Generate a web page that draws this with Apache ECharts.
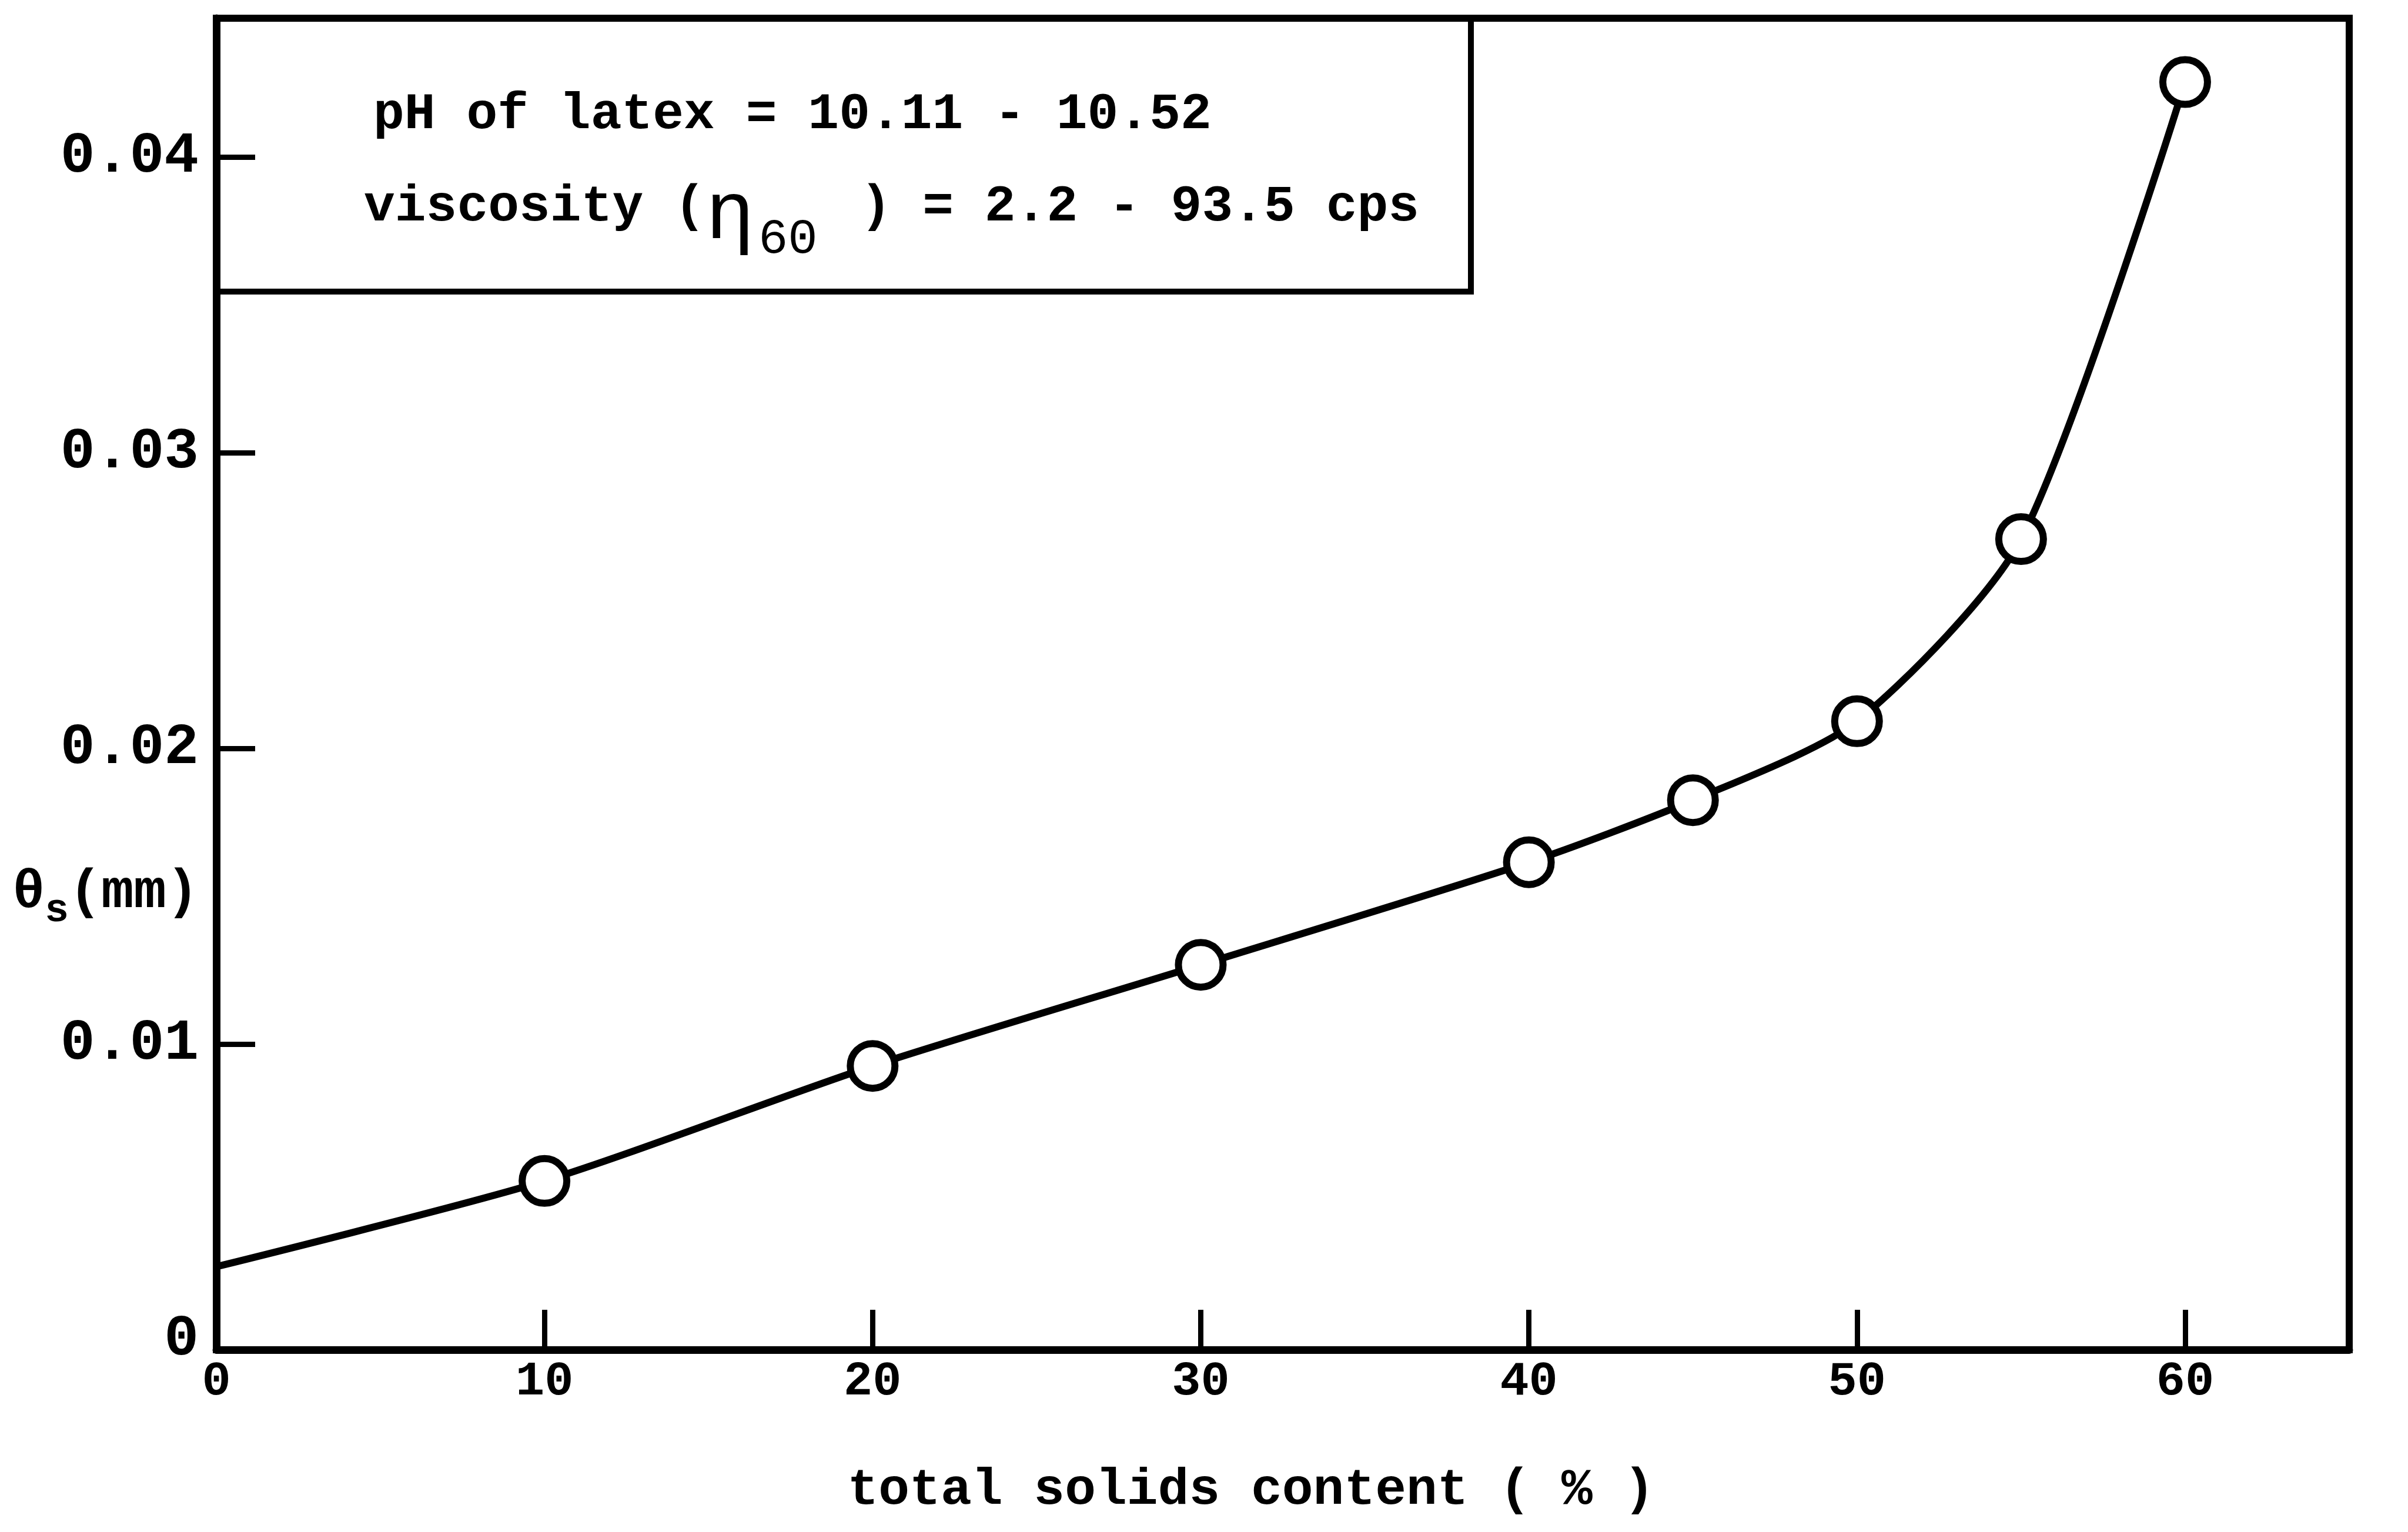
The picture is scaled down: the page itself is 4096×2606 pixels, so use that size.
<!DOCTYPE html>
<html>
<head>
<meta charset="utf-8">
<script src="https://cdn.jsdelivr.net/npm/echarts@6/dist/echarts.min.js"></script>
<style>
  html, body { margin: 0; padding: 0; background: #ffffff; }
  #chart { width: 4096px; height: 2606px; }
</style>
</head>
<body>
<div id="chart"></div>
<script>
// Measured points: total solids content (%) vs theta_s (mm)
const solids = [10, 20, 30, 40, 45, 50, 55, 60];
const thetaS = [0.00537, 0.00926, 0.01268, 0.01615, 0.01825, 0.02092, 0.02708, 0.04254];

// Fitted curve: starts at the 0 % intercept and runs through the measured points
const curveSolids = [0, 10, 20, 30, 40, 45, 50, 55, 60];
const curveTheta = [0.00247, 0.00537, 0.00926, 0.01268, 0.01615, 0.01825, 0.02092, 0.02708, 0.04254];

// Axis ticks and labels
const xLabelValues = [0, 10, 20, 30, 40, 50, 60];
const xTickValues = [10, 20, 30, 40, 50, 60];
const yLabelValues = [0, 0.01, 0.02, 0.03, 0.04];
const yTickValues = [0.01, 0.02, 0.03, 0.04];

// Note box text
const noteLine1 = 'pH of latex = 10.11 - 10.52';
const noteLine2a = 'viscosity (';
const noteEta = 'η';
const noteEtaSub = '60';
const noteLine2b = ' ) = 2.2 - 93.5 cps';

const FONT = '"Liberation Mono", "DejaVu Sans Mono", monospace';
const INK = '#000000';

const chart = echarts.init(document.getElementById('chart'), null, { renderer: 'canvas' });

chart.setOption({
  backgroundColor: '#ffffff',
  animation: false,
  grid: {
    left: 368, right: 100, top: 31, bottom: 310,
    show: true, borderColor: INK, borderWidth: 12, backgroundColor: 'transparent',
    containLabel: false,
    outerBoundsMode: 'none'
  },
  xAxis: {
    type: 'value',
    min: 0, max: 65,
    splitLine: { show: false },
    axisLine: { show: true, onZero: false, lineStyle: { color: INK, width: 13 } },
    axisTick: { show: true, inside: true, length: 68, customValues: xTickValues,
                lineStyle: { color: INK, width: 9 } },
    axisLabel: {
      show: true, customValues: xLabelValues, margin: 14,
      fontFamily: FONT, fontSize: 82, fontWeight: 'bold', color: INK,
      formatter: v => String(v)
    },
    name: 'total solids content ( % )',
    nameLocation: 'middle',
    nameGap: 196,
    nameMoveOverlap: false,
    nameTextStyle: { fontFamily: FONT, fontSize: 88, fontWeight: 'bold', color: INK,
                     padding: [0, 108, 0, 0] }
  },
  yAxis: {
    type: 'value',
    min: -0.00034, max: 0.0447,
    splitLine: { show: false },
    axisLine: { show: true, onZero: false, lineStyle: { color: INK, width: 13 } },
    axisTick: { show: true, inside: true, length: 66, customValues: yTickValues,
                lineStyle: { color: INK, width: 9 } },
    axisLabel: {
      show: true, customValues: yLabelValues, margin: 30,
      fontFamily: FONT, fontSize: 98, fontWeight: 'bold', color: INK,
      formatter: v => (v === 0 ? '0' : v.toFixed(2))
    },
    name: '{t|θ}{s|s}{t|(mm)}',
    nameLocation: 'middle',
    nameRotate: 0,
    nameGap: 30,
    nameMoveOverlap: false,
    nameTextStyle: {
      color: INK,
      align: 'right',
      verticalAlign: 'middle',
      padding: [712, 0, 0, 0],
      rich: {
        t: { fontFamily: FONT, fontSize: 92, fontWeight: 'bold', color: INK },
        s: { fontFamily: FONT, fontSize: 68, fontWeight: 'bold', color: INK, padding: [60, 0, 0, 0] }
      }
    }
  },
  graphic: [
    {
      type: 'rect',
      z: 10,
      shape: { x: 368, y: 31, width: 2134, height: 465 },
      style: { fill: 'transparent', stroke: INK, lineWidth: 10 }
    },
    {
      type: 'text',
      z: 11,
      x: 635, y: 196,
      style: {
        text: noteLine1,
        fontFamily: FONT, fontSize: 88, fontWeight: 'bold', fill: INK,
        verticalAlign: 'middle', align: 'left'
      }
    },
    {
      type: 'text',
      z: 11,
      x: 619, y: 353,
      style: {
        text: '{a|' + noteLine2a + '}{e|' + noteEta + '}{s|' + noteEtaSub + '}{a|' + noteLine2b + '}',
        verticalAlign: 'middle', align: 'left',
        fill: INK,
        rich: {
          a: { fontFamily: FONT, fontSize: 88, fontWeight: 'bold', fill: INK },
          e: { fontFamily: FONT, fontSize: 140, fill: INK, padding: [30, 0, 0, 0] },
          s: { fontFamily: FONT, fontSize: 84, fill: INK, padding: [110, 20, 0, 6] }
        }
      }
    }
  ],
  series: [
    {
      type: 'line',
      name: 'fit',
      data: curveSolids.map((x, i) => [x, curveTheta[i]]),
      smooth: 0.25,
      showSymbol: false,
      symbol: 'none',
      lineStyle: { color: INK, width: 12 },
      z: 2,
      silent: true
    },
    {
      type: 'scatter',
      name: 'measured',
      data: solids.map((x, i) => [x, thetaS[i]]),
      symbol: 'circle',
      symbolSize: 76,
      itemStyle: { color: '#ffffff', borderColor: INK, borderWidth: 12, opacity: 1 },
      z: 3,
      silent: true
    }
  ]
});
</script>
</body>
</html>
